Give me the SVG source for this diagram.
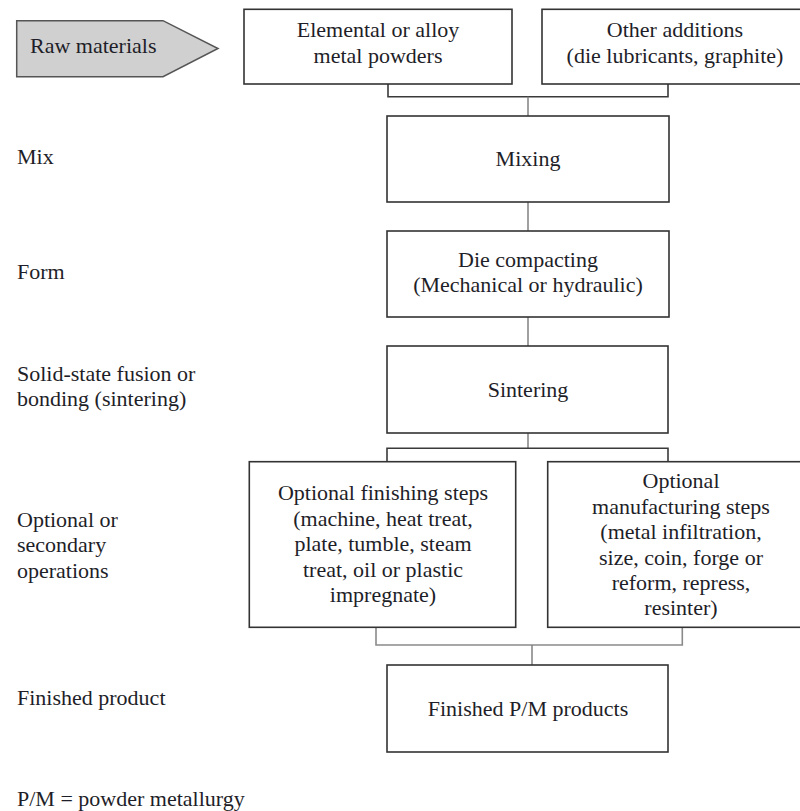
<svg xmlns="http://www.w3.org/2000/svg" width="800" height="811" viewBox="0 0 800 811">
<style>
  text { font-family: "Liberation Serif", "Times New Roman", serif; font-size: 22px; fill: #1e1e28; }
  .c { text-anchor: middle; }
  .box { fill: #ffffff; stroke: #333333; stroke-width: 1.6; }
  .arrow { fill: #d0d0d0; stroke: #555555; stroke-width: 1.5; }
  .conn { fill: none; stroke: #808080; stroke-width: 1.5; }
  .brk { fill: none; stroke: #3a3a3a; stroke-width: 1.6; }
  .brk2 { fill: none; stroke: #8a8a8a; stroke-width: 1.6; }
</style>
<rect width="800" height="811" fill="#ffffff"/>

<g id="connectors">
  <path class="brk" d="M388,84 V96.7 H668 V84"/>
  <line class="conn" x1="528" y1="96.7" x2="528" y2="116"/>
  <line class="conn" x1="528" y1="202" x2="528" y2="231"/>
  <line class="conn" x1="528" y1="317" x2="528" y2="346"/>
  <line class="conn" x1="528" y1="433" x2="528" y2="448.3"/>
  <path class="brk" d="M387,461.7 V448.3 H668 V461.7"/>
  <path class="brk2" d="M376,627.3 V645 H682.3 V627.3"/>
  <line class="conn" x1="532" y1="645" x2="532" y2="665"/>
</g>

<g id="raw-materials">
  <polygon class="arrow" points="16.7,20.7 163,20.7 218,48.5 163,76.7 16.7,76.7"/>
  <text x="30" y="53">Raw materials</text>
</g>

<g id="metal-powders">
  <rect class="box" x="244" y="9.3" width="268" height="74.7"/>
  <text class="c" x="378" y="37.3">Elemental or alloy</text>
  <text class="c" x="378" y="63.3">metal powders</text>
</g>

<g id="other-additions">
  <rect class="box" x="542" y="9.3" width="270" height="74.7"/>
  <text class="c" x="675" y="36.7">Other additions</text>
  <text class="c" x="675" y="63">(die lubricants, graphite)</text>
</g>

<g id="mixing">
  <rect class="box" x="387" y="116" width="282" height="86"/>
  <text class="c" x="528" y="166">Mixing</text>
</g>

<g id="die-compacting">
  <rect class="box" x="387" y="231" width="282" height="86"/>
  <text class="c" x="528" y="266.7">Die compacting</text>
  <text class="c" x="528" y="291.7">(Mechanical or hydraulic)</text>
</g>

<g id="sintering">
  <rect class="box" x="387" y="346" width="281" height="87"/>
  <text class="c" x="528" y="396.5">Sintering</text>
</g>

<g id="finishing-steps">
  <rect class="box" x="249.3" y="461.7" width="266.4" height="165.6"/>
  <text class="c" x="383" y="500">Optional finishing steps</text>
  <text class="c" x="383" y="525.5">(machine, heat treat,</text>
  <text class="c" x="383" y="551">plate, tumble, steam</text>
  <text class="c" x="383" y="576.5">treat, oil or plastic</text>
  <text class="c" x="383" y="602">impregnate)</text>
</g>

<g id="manufacturing-steps">
  <rect class="box" x="547.7" y="461.7" width="267" height="165.6"/>
  <text class="c" x="681" y="488.3">Optional</text>
  <text class="c" x="681" y="513.5">manufacturing steps</text>
  <text class="c" x="681" y="539">(metal infiltration,</text>
  <text class="c" x="681" y="564.5">size, coin, forge or</text>
  <text class="c" x="681" y="590">reform, repress,</text>
  <text class="c" x="681" y="615">resinter)</text>
</g>

<g id="finished-products">
  <rect class="box" x="387" y="665" width="281" height="87"/>
  <text class="c" x="528" y="715.5">Finished P/M products</text>
</g>

<g id="stage-labels">
  <text x="17" y="164.3">Mix</text>
  <text x="17" y="279">Form</text>
  <text x="17" y="381">Solid-state fusion or</text>
  <text x="17" y="406">bonding (sintering)</text>
  <text x="17" y="527">Optional or</text>
  <text x="17" y="552">secondary</text>
  <text x="17" y="578">operations</text>
  <text x="17" y="705">Finished product</text>
  <text x="17" y="806">P/M = powder metallurgy</text>
</g>
</svg>
